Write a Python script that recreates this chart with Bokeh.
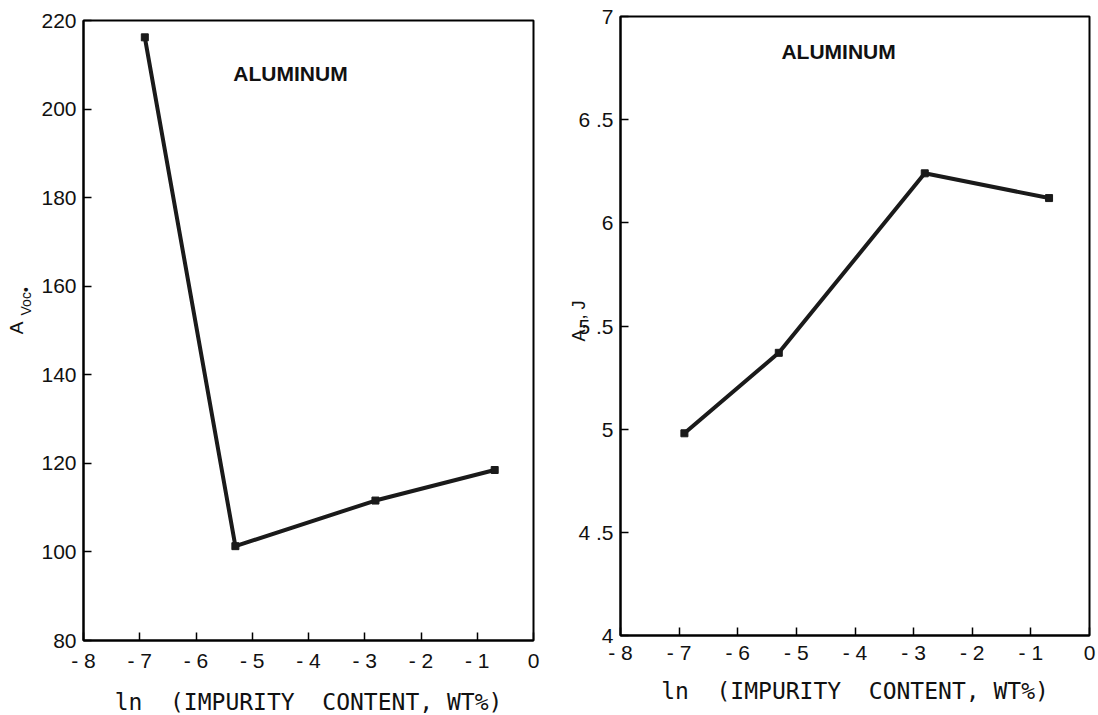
from bokeh.plotting import figure
from bokeh.layouts import row, column
from bokeh.models import Label, FixedTicker, ColumnDataSource, LinearAxis
from bokeh.embed import file_html
from bokeh.resources import INLINE

# ---- data ----
x_ln = [-6.91, -5.30, -2.81, -0.69]          # ln(impurity content, wt%)
a_voc = [216.2, 101.3, 111.6, 118.5]         # left panel
a_j = [4.98, 5.37, 6.24, 6.12]               # right panel

x_ticks = [-8, -7, -6, -5, -4, -3, -2, -1, 0]
x_tick_labels = ["- 8", "- 7", "- 6", "- 5", "- 4", "- 3", "- 2", "- 1", "0"]
left_y_ticks = [80, 100, 120, 140, 160, 180, 200, 220]
right_y_ticks = [4, 4.5, 5, 5.5, 6, 6.5, 7]
right_y_labels = ["4", "4 .5", "5", "5 .5", "6", "6 .5", "7"]
panel_title = "ALUMINUM"
NB = "\u00a0"
x_title = "ln" + NB * 2 + "(IMPURITY" + NB * 2 + "CONTENT," + NB + "WT%)"
left_y_main = "A"
left_y_sub = "Voc\u2022"
right_y_title = "A," + NB + "," + NB + "J"

TICK_FONT = "Liberation Sans"
MONO_FONT = "DejaVu Sans Mono"


def style(p, yticks, ylabels, tick_standoff, label_standoff):
    p.xaxis.ticker = FixedTicker(ticks=x_ticks)
    p.xaxis.major_label_overrides = {t: l for t, l in zip(x_ticks, x_tick_labels)}
    p.yaxis.ticker = FixedTicker(ticks=yticks)
    if ylabels:
        p.yaxis.major_label_overrides = {t: l for t, l in zip(yticks, ylabels)}
    for ax in (p.xaxis, p.yaxis):
        ax.axis_line_color = "black"
        ax.axis_line_width = 2
        ax.major_tick_in = 8
        ax.major_tick_out = 0
        ax.major_tick_line_color = "black"
        ax.major_tick_line_width = 1.5
        ax.minor_tick_line_color = None
        ax.major_label_text_font = TICK_FONT
        ax.major_label_text_font_size = "21px"
        ax.major_label_text_color = "#111111"
    p.yaxis.major_label_standoff = 7
    p.xaxis.major_label_standoff = tick_standoff
    p.xaxis.axis_label = x_title
    p.xaxis.axis_label_text_font = MONO_FONT
    p.xaxis.axis_label_text_font_size = "23px"
    p.xaxis.axis_label_text_font_style = "normal"
    p.xaxis.axis_label_text_color = "#111111"
    p.xaxis.axis_label_standoff = label_standoff
    for ax in p.yaxis:
        ax.axis_label_text_font = TICK_FONT
        ax.axis_label_text_font_style = "normal"
        ax.axis_label_text_color = "#111111"
    p.xgrid.grid_line_color = None
    p.ygrid.grid_line_color = None
    p.outline_line_color = "black"
    p.outline_line_width = 2
    p.outline_line_alpha = 1.0
    p.background_fill_color = "white"
    p.border_fill_color = "white"


def label_axis(text, size, standoff):
    ax = LinearAxis(ticker=FixedTicker(ticks=[]), axis_label=text)
    ax.axis_line_color = None
    ax.major_tick_line_color = None
    ax.minor_tick_line_color = None
    ax.major_label_text_font_size = "0px"
    ax.axis_label_text_font = TICK_FONT
    ax.axis_label_text_font_size = size
    ax.axis_label_text_font_style = "normal"
    ax.axis_label_text_color = "#111111"
    ax.axis_label_standoff = standoff
    return ax


# ---- left panel ----
p1 = figure(frame_width=450, frame_height=620, x_range=(-8, 0), y_range=(80, 220),
            output_backend="svg", toolbar_location=None,
            min_border_left=83, min_border_top=20, min_border_right=9)
style(p1, left_y_ticks, None, 8, 14)
# subscript part of the y title on the main axis, the "A" on an outer label axis
p1.yaxis[0].axis_label = NB * 15 + left_y_sub
p1.yaxis[0].axis_label_text_font_size = "14px"
p1.yaxis[0].axis_label_standoff = 4
p1.add_layout(label_axis(NB + left_y_main, "19px", -11), "left")
src1 = ColumnDataSource(dict(x=x_ln, y=a_voc))
p1.line("x", "y", source=src1, line_color="#1a1a1a", line_width=4)
p1.scatter("x", "y", source=src1, marker="square", size=7, color="#1a1a1a")
p1.add_layout(Label(x=-4.32, y=208, text=panel_title, text_font=TICK_FONT,
                    text_font_size="21px", text_font_style="bold",
                    text_align="center", text_baseline="middle", text_color="#111111"))

# ---- right panel ----
p2 = figure(frame_width=469, frame_height=619, x_range=(-8, 0), y_range=(4, 7),
            output_backend="svg", toolbar_location=None,
            min_border_left=78, min_border_top=16, min_border_right=8)
style(p2, right_y_ticks, right_y_labels, 5, 11)
p2.yaxis[0].axis_label = NB * 2 + right_y_title
p2.yaxis[0].axis_label_text_font_size = "18px"
p2.yaxis[0].axis_label_standoff = -14
src2 = ColumnDataSource(dict(x=x_ln, y=a_j))
p2.line("x", "y", source=src2, line_color="#1a1a1a", line_width=4)
p2.scatter("x", "y", source=src2, marker="square", size=7, color="#1a1a1a")
p2.add_layout(Label(x=-4.28, y=6.83, text=panel_title, text_font=TICK_FONT,
                    text_font_size="21px", text_font_style="bold",
                    text_align="center", text_baseline="middle", text_color="#111111"))

layout = row(column(p1), column(p2))
open("out.html", "w").write(file_html(layout, INLINE))
